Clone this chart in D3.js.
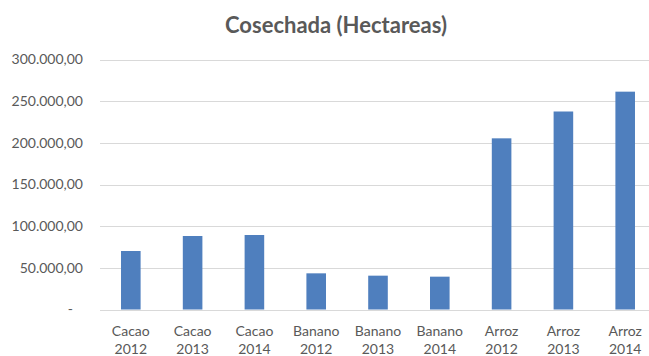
<!DOCTYPE html>
<html>
<head>
<meta charset="utf-8">
<script src="https://cdn.jsdelivr.net/npm/d3@7"></script>
<style>
  html, body { margin: 0; padding: 0; background: #fff; }
  svg { display: block; }
</style>
</head>
<body>
<svg id="chart" width="649" height="356"></svg>
<script>
// Harvested area per crop and year
const crops = ["Cacao", "Cacao", "Cacao", "Banano", "Banano", "Banano", "Arroz", "Arroz", "Arroz"];
const years = ["2012", "2013", "2014", "2012", "2013", "2014", "2012", "2013", "2014"];
const hectares = [70200, 88200, 89400, 43400, 40600, 39400, 205400, 237600, 261400];
const yTicks = [0, 50000, 100000, 150000, 200000, 250000, 300000];

const svg = d3.select("#chart");
const W = 649, H = 356;
const font = "Lato, 'Open Sans', sans-serif";
const textColor = "#595959";

const keys = crops.map((c, i) => c + " " + years[i]);

const x = d3.scaleBand().domain(keys).range([100, 656]).paddingInner(0.683).paddingOuter(0.34);
const y = d3.scaleLinear().domain([0, 300000]).range([309.5, 59.5]);

// Spanish number formatting: dot thousands, comma decimals
const locale = d3.formatLocale({ decimal: ",", thousands: ".", grouping: [3], currency: ["", ""] });
const fmt = locale.format(",.2f");

// Gridlines
svg.append("g")
  .selectAll("line")
  .data(yTicks)
  .join("line")
  .attr("x1", 100).attr("x2", W)
  .attr("y1", d => Math.round(y(d)) + 0.5)
  .attr("y2", d => Math.round(y(d)) + 0.5)
  .attr("stroke", "#d9d9d9")
  .attr("stroke-width", 1);

// Y axis labels
const yAxis = d3.axisLeft(y)
  .tickValues(yTicks)
  .tickSize(0)
  .tickPadding(0)
  .tickFormat(d => d === 0 ? "-" : fmt(d));
const gy = svg.append("g").attr("transform", "translate(83,0)").call(yAxis);
gy.select(".domain").remove();
gy.selectAll("text")
  .attr("fill", textColor)
  .attr("font-family", font)
  .attr("font-size", 14)
  .attr("dx", d => d === 0 ? -10 : 0);

// Bars
svg.append("g")
  .selectAll("rect")
  .data(hectares)
  .join("rect")
  .attr("x", (d, i) => x(keys[i]))
  .attr("width", x.bandwidth())
  .attr("y", d => y(d))
  .attr("height", d => y(0) - y(d))
  .attr("fill", "#4f7fbe");

// X axis labels (two lines)
const xl = svg.append("g")
  .selectAll("text")
  .data(keys)
  .join("text")
  .attr("x", d => x(d) + x.bandwidth() / 2)
  .attr("text-anchor", "middle")
  .attr("fill", textColor)
  .attr("font-family", font)
  .attr("font-size", 14);
xl.append("tspan").attr("x", d => x(d) + x.bandwidth() / 2).attr("y", 336).text((d, i) => crops[i]);
xl.append("tspan").attr("x", d => x(d) + x.bandwidth() / 2).attr("y", 354).text((d, i) => years[i]);

// Title
svg.append("text")
  .attr("x", 336)
  .attr("y", 33)
  .attr("text-anchor", "middle")
  .attr("fill", textColor)
  .attr("font-family", font)
  .attr("font-weight", "bold")
  .attr("font-size", 22)
  .text("Cosechada (Hectareas)");
</script>
</body>
</html>
